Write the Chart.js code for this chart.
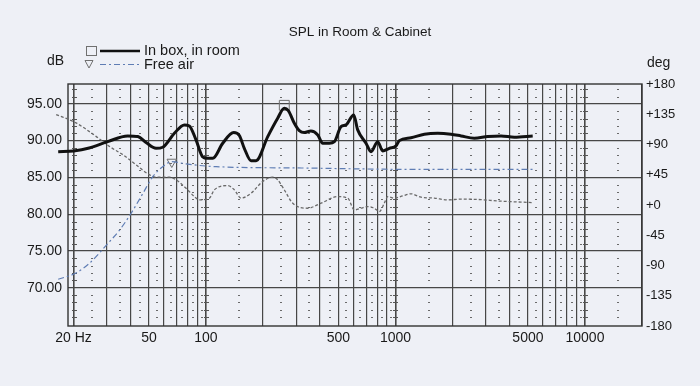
<!DOCTYPE html>
<html>
<head>
<meta charset="utf-8">
<title>SPL in Room &amp; Cabinet</title>
<script src="https://cdn.jsdelivr.net/npm/chart.js@4.4.0/dist/chart.umd.min.js"></script>
<style>
  html, body { margin: 0; padding: 0; background: #eef0f6; }
  #wrap { width: 700px; height: 386px; }
</style>
</head>
<body>
<div id="wrap"><canvas id="splChart" width="700" height="386"></canvas></div>
<script>
// valeurs
const freqBox = [16.6, 20, 24.2, 30.3, 38.6, 43.7, 48.5, 54.5, 59.1, 68.1, 76.9, 81.7, 88.6, 96.1, 102, 108.6,
  122.6, 140, 150, 159.3, 172.9, 183.7, 211.8, 239, 259, 272, 292.6, 310.8, 330, 358, 389, 413, 448, 476,
  516, 548, 602, 632, 699, 743, 806, 856, 928, 1006, 1048, 1208, 1420, 1671, 1964, 2218, 2606, 3068, 3606, 4238, 5300];
const splBox = [88.5, 88.6, 89.0, 89.86, 90.64, 90.55, 89.7, 88.96, 89.1, 91.0, 92.14, 92.0, 90.1, 87.8, 87.6, 87.6,
  89.65, 91.1, 90.7, 88.96, 87.28, 87.28, 90.55, 93.05, 94.41, 94.09, 92.37, 91.36, 91.09, 91.32, 90.78, 89.65, 89.65, 89.86,
  91.9, 92.14, 93.5, 91.46, 89.65, 88.5, 89.86, 88.6, 88.96, 89.28, 90.0, 90.4, 90.87, 91.0, 90.87, 90.64, 90.33, 90.55, 90.64, 90.46, 90.64];

const freqFree = [16.6, 20.6, 24.2, 30.3, 34.9, 40.2, 46.4, 52.4, 59.1, 66, 78.5, 113, 320, 1070, 5300];
const splFree = [71.16, 72.0, 73.3, 76.0, 77.8, 80.1, 82.8, 85.1, 86.46, 87.14, 86.83, 86.46, 86.28, 86.1, 86.08];

const freqPhase = [16.2, 20.6, 26.3, 30.9, 36.4, 42.7, 49.3, 54.5, 64.1, 69.5, 80.1, 86.8, 92.2, 104.2, 110.7, 130.2,
  141.2, 153.1, 172.9, 199.3, 225, 239, 259, 287, 344, 405, 496, 560, 607, 658, 714, 773, 822, 873, 910, 986,
  1092, 1208, 1364, 1604, 1887, 2218, 2828, 3464, 5300];
const phaseDeg = [134.5, 122.1, 102.1, 87.2, 74.8, 59.9, 46.4, 41.5, 41.5, 37.5, 22.5, 12.5, 7.6, 10.2, 22.5, 28.9,
  22.5, 10.2, 17.6, 35.0, 41.5, 37.5, 22.5, 2.7, -4.8, 2.7, 12.5, 10.2, -7.3, -4.8, -2.4, -4.8, -9.8, 2.7, 12.5, 10.2,
  13.6, 16.6, 11.6, 10.2, 7.6, 8.7, 8.0, 6.0, 3.6];

// marqueurs des courbes
const boxMarkerFreq = [259];
const boxMarkerSpl = [94.8];
const freeMarkerFreq = [66];
const freeMarkerSpl = [87.1];

// axes
const xGridFreqs = [20, 30, 40, 50, 60, 70, 80, 90, 100, 200, 300, 400, 500, 600, 700, 800, 900,
  1000, 2000, 3000, 4000, 5000, 6000, 7000, 8000, 9000, 10000, 20000];
const xLabelFreqs = [20, 50, 100, 500, 1000, 5000, 10000];
const xLabels = ['20 Hz', '50', '100', '500', '1000', '5000', '10000'];
const decadeFreqs = [20, 100, 1000, 10000];
const minorFreqs = [25, 35, 45, 55, 65, 75, 85, 95, 150, 250, 350, 450, 550, 650, 750, 850, 950,
  1500, 2500, 3500, 4500, 5500, 6500, 7500, 8500, 9500, 15000];
const dbTicks = [70, 75, 80, 85, 90, 95];
const degTicks = [-180, -135, -90, -45, 0, 45, 90, 135, 180];

const BG = '#eef0f6';
const INK = '#1a1a1a';
const GRID = '#474747';
const FONT = '"Liberation Sans", Arial, sans-serif';
const BLUE = '#5f7db4';

function pairs(xs, ys) {
    return xs.map((x, i) => ({ x: x, y: ys[i] }));
}

// fond, pointillés de la grille, cadre, légende et titres
const paperGrid = {
    id: 'paperGrid',
    beforeDraw(chart) {
        const c = chart.ctx;
        c.save();
        c.fillStyle = BG;
        c.fillRect(0, 0, chart.width, chart.height);
        c.restore();
    },
    beforeDatasetsDraw(chart) {
        const { ctx, chartArea, scales } = chart;
        const xs = scales.x, ys = scales.y;
        ctx.save();
        ctx.fillStyle = '#6a6a6a';
        minorFreqs.forEach(f => {
            const px = Math.round(xs.getPixelForValue(f));
            for (let d = 66; d <= 97; d++) {
                if (d % 5 === 0) continue;
                const py = Math.round(ys.getPixelForValue(d));
                ctx.fillRect(px - 1, py, 2, 1);
            }
        });
        ctx.fillStyle = '#555';
        decadeFreqs.forEach(f => {
            const px = xs.getPixelForValue(f);
            for (let d = 66; d <= 97; d++) {
                if (d % 5 === 0) continue;
                const py = Math.round(ys.getPixelForValue(d));
                ctx.fillRect(Math.round(px) - 2, py, 5, 1);
            }
        });
        ctx.strokeStyle = '#333';
        ctx.lineWidth = 1.4;
        ctx.strokeRect(chartArea.left, chartArea.top, chartArea.width, chartArea.height);
        ctx.restore();
    },
    afterDraw(chart) {
        const ctx = chart.ctx;
        ctx.save();
        ctx.fillStyle = INK;
        ctx.textBaseline = 'middle';

        // titre
        ctx.font = '13.5px ' + FONT;
        ctx.textAlign = 'center';
        ctx.fillText('SPL in Room & Cabinet', 360, 32);

        // unités
        ctx.font = '14px ' + FONT;
        ctx.textAlign = 'left';
        ctx.fillText('dB', 47, 61);
        ctx.fillText('deg', 647, 63);

        // légende
        ctx.strokeStyle = '#707070';
        ctx.lineWidth = 1;
        ctx.strokeRect(86.5, 46.5, 10, 9);
        ctx.beginPath();
        ctx.moveTo(85, 60.5);
        ctx.lineTo(93, 60.5);
        ctx.lineTo(89, 68);
        ctx.closePath();
        ctx.stroke();

        ctx.strokeStyle = '#111';
        ctx.lineWidth = 2.6;
        ctx.beginPath();
        ctx.moveTo(100, 51);
        ctx.lineTo(140, 51);
        ctx.stroke();

        ctx.strokeStyle = BLUE;
        ctx.lineWidth = 1.2;
        ctx.setLineDash([6, 3, 2, 3]);
        ctx.beginPath();
        ctx.moveTo(100, 64.5);
        ctx.lineTo(140, 64.5);
        ctx.stroke();
        ctx.setLineDash([]);

        ctx.font = '14.5px ' + FONT;
        ctx.fillText('In box, in room', 144, 51);
        ctx.fillText('Free air', 144, 65);
        ctx.restore();
    }
};

const ctx = document.getElementById('splChart').getContext('2d');
new Chart(ctx, {
    type: 'line',
    data: {
        datasets: [
            {
                label: 'In box, in room',
                data: pairs(freqBox, splBox),
                yAxisID: 'y',
                borderColor: '#111111',
                borderWidth: 3,
                pointRadius: 0,
                cubicInterpolationMode: 'monotone',
                clip: false
            },
            {
                label: 'In box marker',
                data: pairs(boxMarkerFreq, boxMarkerSpl),
                yAxisID: 'y',
                showLine: false,
                pointStyle: 'rect',
                pointRadius: 7,
                pointBorderWidth: 1,
                pointBorderColor: '#707070',
                pointBackgroundColor: 'rgba(0,0,0,0)'
            },
            {
                label: 'Free air',
                data: pairs(freqFree, splFree),
                yAxisID: 'y',
                borderColor: BLUE,
                borderWidth: 1.2,
                borderDash: [6, 3, 2, 3],
                pointRadius: 0,
                cubicInterpolationMode: 'monotone',
                clip: false
            },
            {
                label: 'Free air marker',
                data: pairs(freeMarkerFreq, freeMarkerSpl),
                yAxisID: 'y',
                showLine: false,
                pointStyle: 'triangle',
                pointRotation: 180,
                pointRadius: 5.5,
                pointBorderWidth: 1,
                pointBorderColor: '#707070',
                pointBackgroundColor: 'rgba(0,0,0,0)'
            },
            {
                label: 'Phase',
                data: pairs(freqPhase, phaseDeg),
                yAxisID: 'yDeg',
                borderColor: '#6a6a6a',
                borderWidth: 1.3,
                borderDash: [3, 2],
                pointRadius: 0,
                cubicInterpolationMode: 'monotone',
                clip: false
            }
        ]
    },
    options: {
        responsive: false,
        devicePixelRatio: 1,
        animation: false,
        layout: { padding: { top: 84, left: 0, right: 0, bottom: 0 } },
        plugins: {
            legend: { display: false },
            tooltip: { enabled: false },
            title: { display: false }
        },
        scales: {
            x: {
                type: 'logarithmic',
                min: 18.7,
                max: 20000,
                afterBuildTicks: s => { s.ticks = xGridFreqs.map(v => ({ value: v })); },
                afterFit: s => { s.height = 60; },
                grid: {
                    color: GRID,
                    lineWidth: c => (c.tick && decadeFreqs.includes(c.tick.value)) ? 1.6 : 1.2,
                    drawTicks: false
                },
                border: { display: false },
                ticks: {
                    autoSkip: false,
                    maxRotation: 0,
                    minRotation: 0,
                    padding: 4,
                    color: INK,
                    font: { family: FONT, size: 14 },
                    callback: v => {
                        const i = xLabelFreqs.indexOf(v);
                        return i >= 0 ? xLabels[i] : '';
                    }
                }
            },
            y: {
                type: 'linear',
                position: 'left',
                min: 64.8,
                max: 97.7,
                afterBuildTicks: s => { s.ticks = dbTicks.map(v => ({ value: v })); },
                afterFit: s => { s.width = 68; },
                grid: { color: GRID, lineWidth: 1.2, drawTicks: false },
                border: { display: false },
                ticks: {
                    padding: 6,
                    color: INK,
                    font: { family: FONT, size: 14 },
                    callback: v => v.toFixed(2)
                }
            },
            yDeg: {
                type: 'linear',
                position: 'right',
                min: -180,
                max: 180,
                afterBuildTicks: s => { s.ticks = degTicks.map(v => ({ value: v })); },
                afterFit: s => { s.width = 58; },
                grid: { drawOnChartArea: false, drawTicks: false },
                border: { display: false },
                ticks: {
                    padding: 4,
                    color: INK,
                    font: { family: FONT, size: 13 },
                    callback: v => (v >= 0 ? '+' : '') + v
                }
            }
        }
    },
    plugins: [paperGrid]
});
</script>
</body>
</html>
